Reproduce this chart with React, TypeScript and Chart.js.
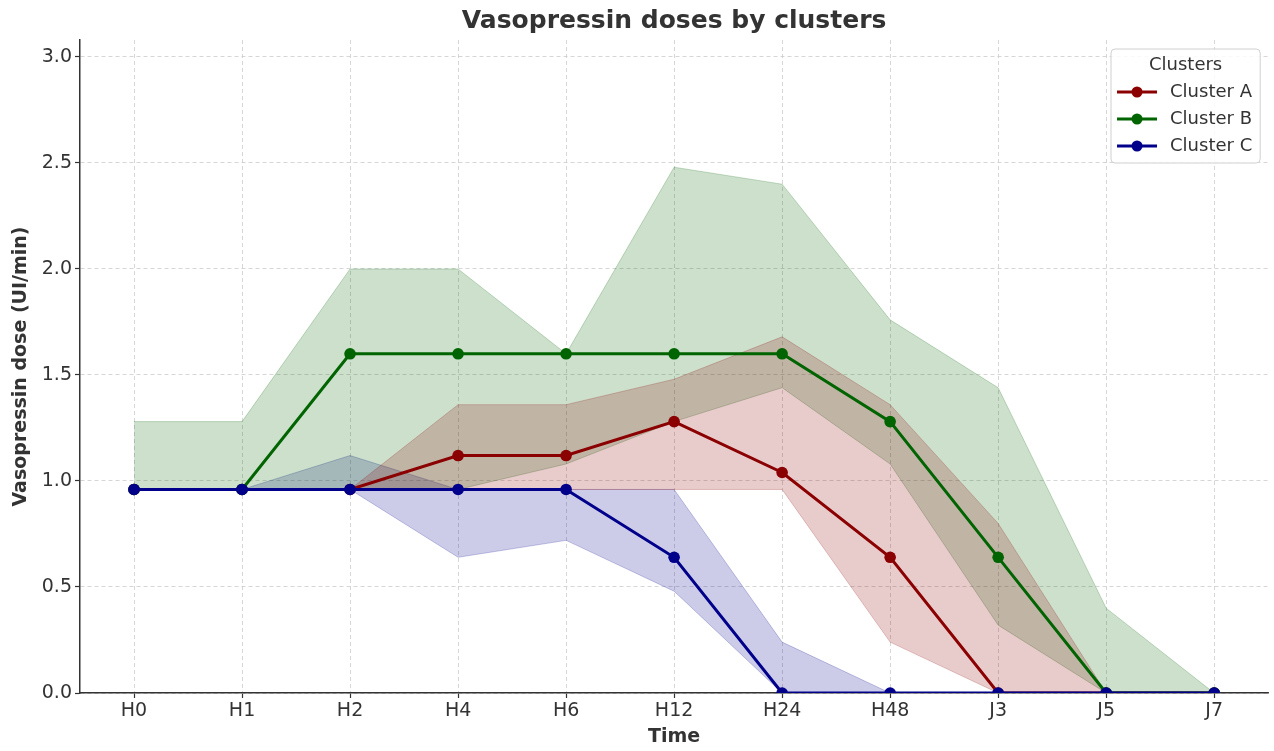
import React, { useEffect, useRef } from "react";
import { Chart, registerables } from "chart.js";

Chart.register(...registerables);

const categories = ["H0", "H1", "H2", "H4", "H6", "H12", "H24", "H48", "J3", "J5", "J7"];

const clusterAMedian = [0.96, 0.96, 0.96, 1.12, 1.12, 1.28, 1.04, 0.64, 0, 0, 0];
const clusterALower = [0.96, 0.96, 0.96, 0.96, 0.96, 0.96, 0.96, 0.24, 0, 0, 0];
const clusterAUpper = [0.96, 0.96, 0.96, 1.36, 1.36, 1.48, 1.68, 1.36, 0.8, 0, 0];

const clusterBMedian = [0.96, 0.96, 1.6, 1.6, 1.6, 1.6, 1.6, 1.28, 0.64, 0, 0];
const clusterBLower = [0.96, 0.96, 0.96, 0.96, 1.08, 1.28, 1.44, 1.08, 0.32, 0, 0];
const clusterBUpper = [1.28, 1.28, 2.0, 2.0, 1.6, 2.48, 2.4, 1.76, 1.44, 0.4, 0];

const clusterCMedian = [0.96, 0.96, 0.96, 0.96, 0.96, 0.64, 0, 0, 0, 0, 0];
const clusterCLower = [0.96, 0.96, 0.96, 0.64, 0.72, 0.48, 0, 0, 0, 0, 0];
const clusterCUpper = [0.96, 0.96, 1.12, 0.96, 0.96, 0.96, 0.24, 0, 0, 0, 0];

const yTicks = [0, 0.5, 1.0, 1.5, 2.0, 2.5, 3.0];

const seriesNames = ["Cluster A", "Cluster B", "Cluster C"];
const seriesColors = ["#8B0000", "#006400", "#00008B"];
const bandFills = ["rgba(139,0,0,0.2)", "rgba(0,100,0,0.2)", "rgba(0,0,139,0.2)"];
const bandEdges = ["rgba(139,0,0,0.22)", "rgba(0,100,0,0.22)", "rgba(0,0,139,0.22)"];

const titleText = "Vasopressin doses by clusters";
const legendTitle = "Clusters";
const xTitle = "Time";
const yTitle = "Vasopressin dose (UI/min)";

const FONT = "'DejaVu Sans', sans-serif";
const TEXT = "#333333";

const titlePlugin = {
  id: "customTitle",
  afterDraw(chart: any) {
    const { ctx, chartArea } = chart;
    ctx.save();
    ctx.font = `bold 25px ${FONT}`;
    ctx.fillStyle = TEXT;
    ctx.textAlign = "center";
    ctx.textBaseline = "middle";
    ctx.fillText(titleText, (chartArea.left + chartArea.right) / 2, 21);
    ctx.restore();
  },
};

const legendPlugin = {
  id: "customLegend",
  afterDraw(chart: any) {
    const { ctx, chartArea } = chart;
    ctx.save();
    ctx.font = `18px ${FONT}`;
    const textW = Math.max(...seriesNames.map((n) => ctx.measureText(n).width));
    const boxW = textW + 67;
    const boxH = 114;
    const right = chartArea.right - 8;
    const left = right - boxW;
    const top = chartArea.top + 9;
    const r = 4;
    ctx.beginPath();
    ctx.moveTo(left + r, top);
    ctx.lineTo(right - r, top);
    ctx.quadraticCurveTo(right, top, right, top + r);
    ctx.lineTo(right, top + boxH - r);
    ctx.quadraticCurveTo(right, top + boxH, right - r, top + boxH);
    ctx.lineTo(left + r, top + boxH);
    ctx.quadraticCurveTo(left, top + boxH, left, top + boxH - r);
    ctx.lineTo(left, top + r);
    ctx.quadraticCurveTo(left, top, left + r, top);
    ctx.closePath();
    ctx.fillStyle = "rgba(255,255,255,0.85)";
    ctx.fill();
    ctx.strokeStyle = "#d0d0d0";
    ctx.lineWidth = 1;
    ctx.stroke();
    ctx.fillStyle = TEXT;
    ctx.textAlign = "center";
    ctx.textBaseline = "middle";
    ctx.fillText(legendTitle, left + boxW / 2, top + 16);
    seriesNames.forEach((name, i) => {
      const y = top + 43 + i * 27;
      ctx.strokeStyle = seriesColors[i];
      ctx.lineWidth = 3;
      ctx.beginPath();
      ctx.moveTo(left + 6, y);
      ctx.lineTo(left + 46, y);
      ctx.stroke();
      ctx.fillStyle = seriesColors[i];
      ctx.beginPath();
      ctx.arc(left + 26, y, 5.5, 0, Math.PI * 2);
      ctx.fill();
      ctx.fillStyle = TEXT;
      ctx.textAlign = "left";
      ctx.fillText(name, left + 59, y);
    });
    ctx.restore();
  },
};

export default function App() {
  const canvasRef = useRef<HTMLCanvasElement | null>(null);

  useEffect(() => {
    if (!canvasRef.current) return;
    const lowers = [clusterALower, clusterBLower, clusterCLower];
    const uppers = [clusterAUpper, clusterBUpper, clusterCUpper];
    const medians = [clusterAMedian, clusterBMedian, clusterCMedian];

    const datasets: any[] = [];
    for (let i = 0; i < 3; i++) {
      datasets.push({
        label: seriesNames[i] + " lower",
        data: lowers[i],
        borderColor: bandEdges[i],
        backgroundColor: bandFills[i],
        borderWidth: 1,
        pointRadius: 0,
        fill: false,
        order: 20 + i * 2,
      });
      datasets.push({
        label: seriesNames[i] + " upper",
        data: uppers[i],
        borderColor: bandEdges[i],
        backgroundColor: bandFills[i],
        borderWidth: 1,
        pointRadius: 0,
        fill: "-1",
        order: 19 + i * 2,
      });
    }
    for (let i = 0; i < 3; i++) {
      datasets.push({
        label: seriesNames[i],
        data: medians[i],
        borderColor: seriesColors[i],
        backgroundColor: seriesColors[i],
        borderWidth: 3,
        pointRadius: 5.8,
        pointBackgroundColor: seriesColors[i],
        pointBorderWidth: 0,
        fill: false,
        order: 2 - i,
      });
    }

    const gridCommon = {
      color: "#cccccc",
      lineWidth: 0.8,
      drawTicks: true,
      tickLength: 5,
      tickColor: "#333333",
      tickWidth: 1.2,
      tickBorderDash: [],
    };
    const borderCommon = { display: true, color: "#333333", width: 1.5, dash: [4, 3] };

    const chart = new Chart(canvasRef.current, {
      type: "line",
      data: { labels: categories, datasets },
      plugins: [titlePlugin, legendPlugin],
      options: {
        animation: false,
        responsive: false,
        devicePixelRatio: 1,
        events: [],
        layout: { padding: { top: 40, right: 4, left: 0, bottom: 0 } },
        plugins: {
          legend: { display: false },
          title: { display: false },
          tooltip: { enabled: false },
          filler: { propagate: false },
        },
        elements: { line: { tension: 0 } },
        scales: {
          x: {
            type: "category",
            offset: true,
            grid: { ...gridCommon, offset: false },
            border: borderCommon,
            ticks: {
              color: TEXT,
              font: { family: FONT, size: 19 },
              padding: 2,
              maxRotation: 0,
              autoSkip: false,
            },
            title: {
              display: true,
              text: xTitle,
              color: TEXT,
              font: { family: FONT, size: 19, weight: "bold" },
              padding: { top: 0, bottom: 3 },
            },
            afterFit(scale: any) {
              scale.height = 58;
            },
          },
          y: {
            type: "linear",
            min: 0,
            max: 3.08,
            afterBuildTicks(scale: any) {
              scale.ticks = yTicks.map((v) => ({ value: v }));
            },
            grid: gridCommon,
            border: borderCommon,
            ticks: {
              color: TEXT,
              font: { family: FONT, size: 19 },
              padding: 3,
              callback: (v: any) => Number(v).toFixed(1),
            },
            title: {
              display: true,
              text: yTitle,
              color: TEXT,
              font: { family: FONT, size: 19, weight: "bold" },
              padding: { top: 10, bottom: 0 },
            },
            afterFit(scale: any) {
              scale.width = 80;
            },
          },
        },
      },
    });
    return () => chart.destroy();
  }, []);

  return (
    <div style={{ position: "fixed", left: 0, top: 0, width: 1274, height: 751, background: "#ffffff" }}>
      <canvas ref={canvasRef} width={1274} height={751} />
    </div>
  );
}
